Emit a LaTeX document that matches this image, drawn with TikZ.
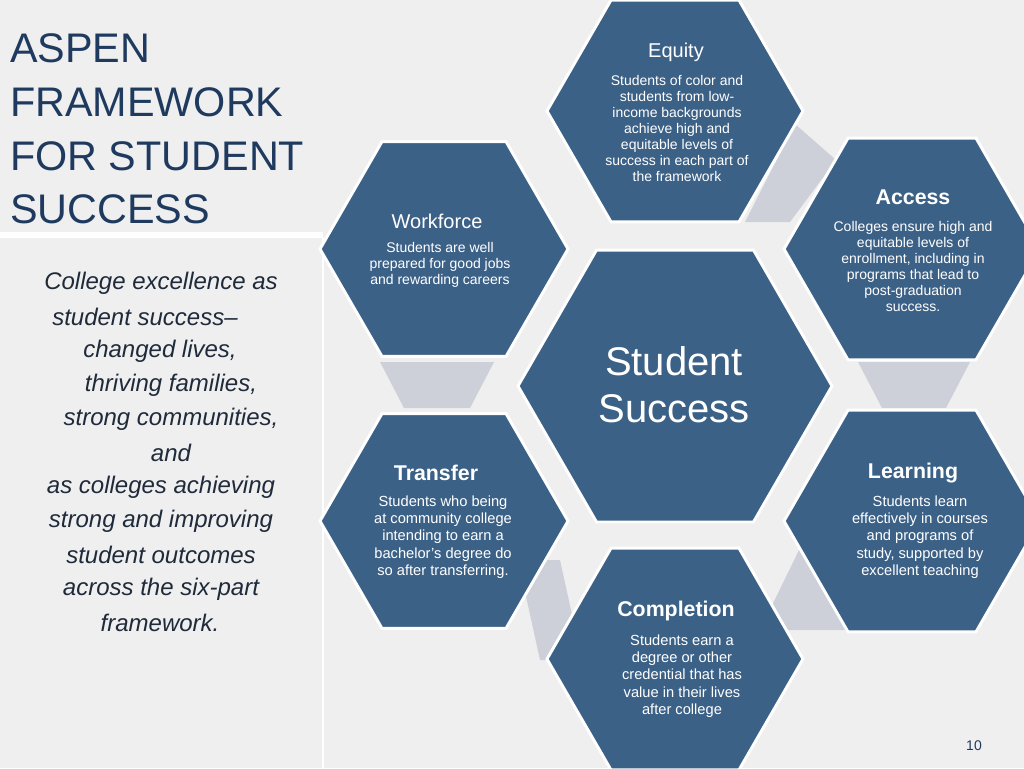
\documentclass[tikz,border=0pt]{standalone}
\usepackage{fontspec}
\setmainfont{Liberation Sans}
\definecolor{bg}{HTML}{EFEFEF}
\definecolor{hexc}{HTML}{3C6187}
\definecolor{titlec}{HTML}{1F3A5F}
\definecolor{conn}{HTML}{CDD0D8}
\definecolor{txt}{HTML}{1F2A3A}
\tikzset{x=0.75pt,y=-0.75pt,
 hexpath/.style={fill=hexc,draw=white,line width=2.2pt},
 head/.style={text=white,font=\fontsize{15}{17}\selectfont,align=center},
 body/.style={text=white,font=\fontsize{10.5}{12}\selectfont,align=center},
 ttl/.style={text=titlec,font=\fontsize{31}{36}\selectfont,anchor=west,inner sep=0},
 itl/.style={text=txt,font=\fontsize{18}{20}\selectfont\itshape,inner sep=0},
 gap/.style={fill=conn}}
\newcommand{\myhex}[3]{\path[hexpath] (#1,#2) ++(#3,0) -- ++(-0.5*#3,0.866*#3) -- ++(-#3,0) -- ++(-0.5*#3,-0.866*#3) -- ++(0.5*#3,-0.866*#3) -- ++(#3,0) -- cycle;}
\begin{document}
\begin{tikzpicture}
\useasboundingbox (0,0) rectangle (1024,768);
\fill[bg] (0,0) rectangle (1024,768);
\fill[white] (0,232) rectangle (323,238);
\draw[white,line width=1pt] (323,238) -- (323,768);
% connectors
\fill[gap] (795,124) -- (836,160) -- (790,222) -- (745,222) -- cycle;
\fill[gap] (380,362) -- (494,362) -- (470,408) -- (404,408) -- cycle;
\fill[gap] (858,362) -- (970,362) -- (946,408) -- (882,408) -- cycle;
\fill[gap] (518,560) -- (560,560) -- (582,660) -- (540,660) -- cycle;
\fill[gap] (800,548) -- (845,548) -- (845,630) -- (760,630) -- cycle;
% hexes
\myhex{675}{111}{128}
\myhex{444}{249}{124}
\myhex{912}{249}{128}
\myhex{444}{521}{124}
\myhex{912}{521}{128}
\myhex{675}{659}{128}
\myhex{675}{386}{157}
% texts
\node[head] (eqh) at (676,52) {Equity};
\node[body] (eqb) at (677,128) {Students of color and\\students from low-\\income backgrounds\\achieve high and\\equitable levels of\\success in each part of\\the framework};
\node[head] (wfh) at (437,221) {Workforce};
\node[body] (wfb) at (440,265) {Students are well\\prepared for good jobs\\and rewarding careers};
\node[head,font=\fontsize{16}{18}\selectfont\bfseries] (ach) at (913,197) {Access};
\node[body] (acb) at (913,266) {Colleges ensure high and\\equitable levels of\\enrollment, including in\\programs that lead to\\post-graduation\\success.};
\node[head,font=\fontsize{16}{18}\selectfont\bfseries] (trh) at (436,473) {Transfer};
\node[body,font=\fontsize{11}{13}\selectfont] (trb) at (443,537) {Students who being\\at community college\\intending to earn a\\bachelor's degree do\\so after transferring.};
\node[head,font=\fontsize{16}{18}\selectfont\bfseries] (leh) at (913,473) {Learning};
\node[body,font=\fontsize{11}{13}\selectfont] (leb) at (920,537) {Students learn\\effectively in courses\\and programs of\\study, supported by\\excellent teaching};
\node[head,font=\fontsize{16}{18}\selectfont\bfseries] (coh) at (676,611) {Completion};
\node[body,font=\fontsize{11}{13}\selectfont] (cob) at (682,676) {Students earn a\\degree or other\\credential that has\\value in their lives\\after college};
\node[text=white,font=\fontsize{30}{35}\selectfont,align=center] (ss) at (674,385) {Student\\Success};
% title
\node[ttl] (t1) at (10,48) {ASPEN};
\node[ttl] (t2) at (10,102) {FRAMEWORK};
\node[ttl] (t3) at (10,156) {FOR STUDENT};
\node[ttl] (t4) at (10,209) {SUCCESS};
\node[itl] (l1) at (161,283) {College excellence as};
\node[itl] (l2) at (145,317) {student success--};
\node[itl] (l3) at (160,351) {changed lives,};
\node[itl] (l4) at (171,385) {thriving families,};
\node[itl] (l5) at (171,419) {strong communities,};
\node[itl] (l6) at (171,453) {and};
\node[itl] (l7) at (161,487) {as colleges achieving};
\node[itl] (l8) at (161,521) {strong and improving};
\node[itl] (l9) at (161,555) {student outcomes};
\node[itl] (l10) at (161,589) {across the six-part};
\node[itl] (l11) at (160,623) {framework.};
\node[text=titlec,font=\fontsize{10.5}{12}\selectfont] (pg) at (974,746) {10};
\end{tikzpicture}
\end{document}
